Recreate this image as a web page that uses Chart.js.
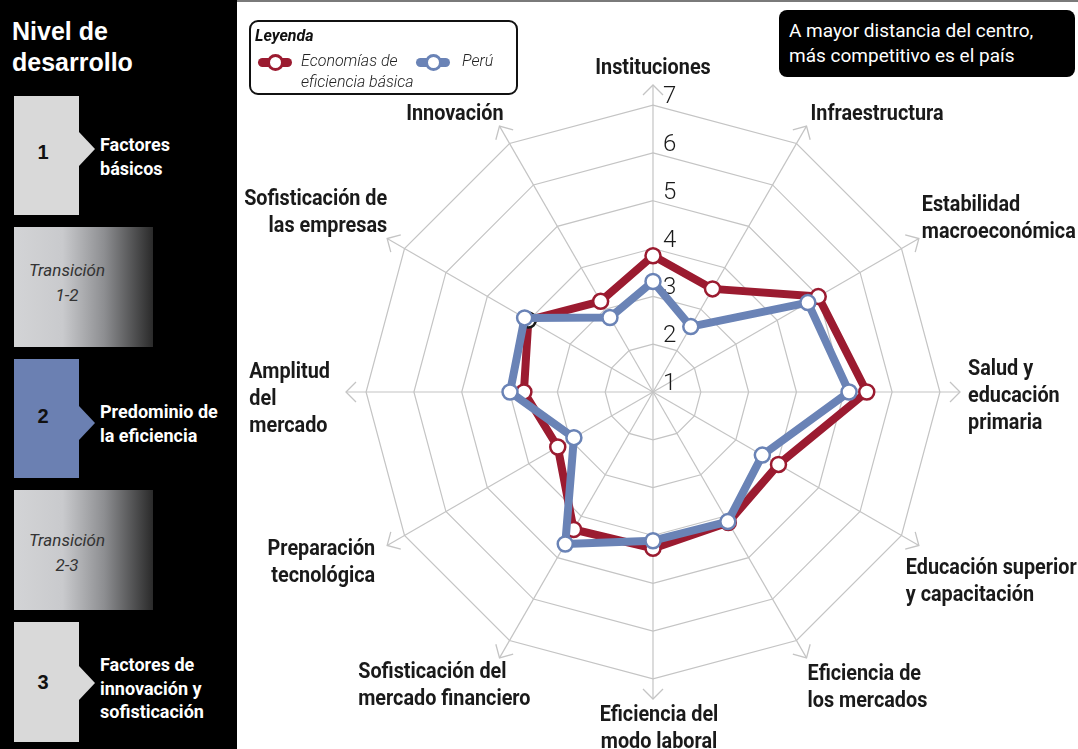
<!DOCTYPE html>
<html lang="es">
<head>
<meta charset="utf-8">
<title>Índice de competitividad - Perú</title>
<script src="https://cdn.jsdelivr.net/npm/chart.js@4.4.0/dist/chart.umd.min.js"></script>
<style>
  body { margin: 0; width: 1078px; height: 749px; overflow: hidden; background: #fff; position: relative; font-family: Roboto, "Liberation Sans", sans-serif; }
  #grafico { position: absolute; left: 0; top: 0; }
  .borde-sup { position: absolute; left: 237px; top: 0; width: 841px; height: 2px; background: #7a7a7a; }
  .panel { position: absolute; left: 0; top: 0; width: 237px; height: 749px; background: #000; }
  .titulo { position: absolute; left: 12px; top: 16px; color: #fff; font: bold 25px/31px "Liberation Sans", Arial, sans-serif; }
  .caja { position: absolute; left: 14px; width: 65px; background: #d9d9d9; }
  .caja.azul { background: #6b80b2; }
  .num { position: absolute; left: 14px; width: 58px; text-align: center; font: bold 20px/24px "Liberation Sans", Arial, sans-serif; color: #111; }
  .punta { position: absolute; left: 79px; width: 0; height: 0; border-left: 16px solid #d9d9d9; border-top: 17px solid transparent; border-bottom: 17px solid transparent; }
  .punta.azul { border-left-color: #6b80b2; }
  .etapa { position: absolute; left: 100px; color: #fff; font: bold 18px/23.5px Roboto, sans-serif; }
  .transicion { position: absolute; left: 14px; width: 139px; height: 120px;
    background: linear-gradient(to right, #d3d4d6 0%, #c9cacd 35%, #8d8e91 65%, #2a2a2a 100%); }
  .trans-txt { position: absolute; left: 14px; width: 106px; text-align: center; color: #333; font: italic 17px/25px Roboto, sans-serif; }
  .leyenda { position: absolute; left: 249px; top: 20px; width: 265px; height: 71px; border: 2px solid #111; border-radius: 9px; background: #fff; }
  .ley-tit { position: absolute; left: 255px; top: 26px; font: italic bold 16px/20px Roboto, sans-serif; color: #111; }
  .ley-txt { position: absolute; top: 50px; font: italic 300 16px/21px Roboto, sans-serif; color: #222; }
  .barra { position: absolute; top: 58px; width: 34px; height: 9px; border-radius: 5px; }
  .circulo { position: absolute; top: 54px; width: 17px; height: 17px; box-sizing: border-box; border: 3px solid; border-radius: 50%; background: #fff; }
  .nota { position: absolute; left: 779px; top: 10px; width: 286px; height: 67px; padding-left: 10px; background: #000; border-radius: 8px; color: #fff; font: 19px/25px Roboto, sans-serif; }
  .nota div { padding-top: 8px; }
</style>
</head>
<body>
<canvas id="grafico" width="1078" height="749"></canvas>
<div class="borde-sup"></div>

<div class="panel"></div>
<div class="titulo">Nivel de<br>desarrollo</div>

<div class="caja" style="top:96px;height:119px"></div>
<div class="punta" style="top:132px"></div>
<div class="num" style="top:140px">1</div>
<div class="etapa" style="top:133px">Factores<br>básicos</div>

<div class="transicion" style="top:227px"></div>
<div class="trans-txt" style="top:258px">Transición<br>1-2</div>

<div class="caja azul" style="top:359px;height:119px"></div>
<div class="punta azul" style="top:406px"></div>
<div class="num" style="top:404px">2</div>
<div class="etapa" style="top:400px">Predominio de<br>la eficiencia</div>

<div class="transicion" style="top:490px"></div>
<div class="trans-txt" style="top:528px">Transición<br>2-3</div>

<div class="caja" style="top:622px;height:120px"></div>
<div class="punta" style="top:666px"></div>
<div class="num" style="top:670px">3</div>
<div class="etapa" style="top:653px">Factores de<br>innovación y<br>sofisticación</div>

<div class="leyenda"></div>
<div class="ley-tit">Leyenda</div>
<div class="barra" style="left:258px;background:#9b1b30"></div>
<div class="circulo" style="left:267px;border-color:#9b1b30"></div>
<div class="ley-txt" style="left:301px">Economías de<br>eficiencia básica</div>
<div class="barra" style="left:416px;background:#6a83b6"></div>
<div class="circulo" style="left:425px;border-color:#6a83b6"></div>
<div class="ley-txt" style="left:462px">Perú</div>

<div class="nota"><div>A mayor distancia del centro,<br>más competitivo es el país</div></div>

<script>
const lienzo = document.getElementById('grafico');
const ctx = lienzo.getContext('2d');

// --- Datos ---
const categorias = [
    ['Instituciones'],
    ['Infraestructura'],
    ['Estabilidad', 'macroeconómica'],
    ['Salud y', 'educación', 'primaria'],
    ['Educación superior', 'y capacitación'],
    ['Eficiencia de', 'los mercados'],
    ['Eficiencia del', 'modo laboral'],
    ['Sofisticación del', 'mercado financiero'],
    ['Preparación', 'tecnológica'],
    ['Amplitud', 'del', 'mercado'],
    ['Sofisticación de', 'las empresas'],
    ['Innovación']
];
const valoresEficiencia = [3.85, 3.49, 4.99, 5.47, 4.03, 4.15, 4.27, 4.32, 3.30, 3.70, 4.01, 3.19];
const valoresPeru = [3.31, 2.58, 4.74, 5.10, 3.64, 4.13, 4.11, 4.67, 2.91, 3.99, 4.10, 2.80];
const marcasEscala = [1, 2, 3, 4, 5, 6, 7];

const rojo = '#9b1b30';
const azul = '#6a83b6';
const gris = '#c4c4c4';

// alineación de cada renglón dentro de su etiqueta, y pequeños ajustes de posición
const alineaciones = ['center', 'left', 'left', 'left', 'left', 'left', 'center', 'left', 'right', 'left', 'right', 'right'];
const ajustes = {
    0: [0, 5], 1: [0, 9], 2: [-4, 11], 3: [0, 4], 4: [-20, 5], 5: [-3, -4],
    6: [6, -5], 7: [35, -6], 8: [-5, -14], 9: [-8, 7], 10: [7, 5], 11: [8, 9]
};

// --- Decoración: flechas, números de la escala y nombres de los pilares ---
const decoracion = {
    id: 'decoracion',
    beforeDatasetsDraw(chart) {
        const s = chart.scales.r;
        const c = chart.ctx;
        c.save();

        // puntas de flecha al final de cada eje
        c.strokeStyle = gris;
        c.lineWidth = 1.3;
        for (let i = 0; i < categorias.length; i++) {
            const tip = s.getPointPosition(i, s.drawingArea);
            const a = s.getIndexAngle(i) - Math.PI / 2;
            const dx = Math.cos(a), dy = Math.sin(a);
            c.beginPath();
            c.moveTo(tip.x - 10 * dx - 10 * dy, tip.y - 10 * dy + 10 * dx);
            c.lineTo(tip.x, tip.y);
            c.lineTo(tip.x - 10 * dx + 10 * dy, tip.y - 10 * dy - 10 * dx);
            c.stroke();
        }

        // números de la escala
        c.fillStyle = '#1a1a1a';
        c.font = '300 24px Roboto';
        c.textAlign = 'left';
        c.textBaseline = 'middle';
        marcasEscala.forEach(v => {
            const r = s.getDistanceFromCenterForValue(v);
            c.fillText(String(v), s.xCenter + 10, s.yCenter - r - 8);
        });
        c.restore();
    },
    afterDraw(chart) {
        const s = chart.scales.r;
        const c = chart.ctx;
        const condensa = 0.9;
        const lh = 27;
        c.save();
        c.fillStyle = '#1a1a1a';
        c.font = 'bold 22px Roboto';
        c.textAlign = 'left';
        c.textBaseline = 'middle';
        categorias.forEach((lineas, i) => {
            const p = s.getPointPosition(i, s.drawingArea + 8);
            const ang = Math.round(s.getIndexAngle(i) * 180 / Math.PI);
            const anchos = lineas.map(t => c.measureText(t).width * condensa);
            const w = Math.max(...anchos);
            const h = lineas.length * lh;
            let left = (ang === 0 || ang === 180) ? p.x - w / 2 : (ang < 180 ? p.x : p.x - w);
            let top = (ang === 90 || ang === 270) ? p.y - h / 2 : ((ang < 90 || ang > 270) ? p.y - h : p.y);
            if (ajustes[i]) {
                left += ajustes[i][0];
                top += ajustes[i][1];
            }
            lineas.forEach((t, k) => {
                const al = alineaciones[i];
                const x = al === 'left' ? left : (al === 'right' ? left + w - anchos[k] : left + (w - anchos[k]) / 2);
                const y = top + lh * k + lh / 2;
                c.save();
                c.translate(x, y);
                c.scale(condensa, 1);
                c.fillText(t, 0, 0);
                c.restore();
            });
        });
        c.restore();
    }
};

new Chart(ctx, {
    type: 'radar',
    data: {
        labels: categorias,
        datasets: [
            {
                label: 'Economías de eficiencia básica',
                data: valoresEficiencia,
                borderColor: rojo,
                borderWidth: 8,
                pointRadius: 7.5,
                pointBorderWidth: 2.5,
                pointBackgroundColor: '#fff',
                pointBorderColor: valoresEficiencia.map((v, i) => i === 10 ? '#1a1a1a' : rojo),
                fill: false,
                order: 2
            },
            {
                label: 'Perú',
                data: valoresPeru,
                borderColor: azul,
                borderWidth: 8,
                pointRadius: 7.5,
                pointBorderWidth: 2.5,
                pointBackgroundColor: '#fff',
                pointBorderColor: azul,
                fill: false,
                order: 1
            }
        ]
    },
    options: {
        responsive: false,
        animation: false,
        layout: { padding: { left: 346, right: 118, top: 85, bottom: 50 } },
        plugins: { legend: { display: false }, tooltip: { enabled: false } },
        elements: { line: { tension: 0, borderJoinStyle: 'round' } },
        scales: {
            r: {
                min: 1,
                max: 7.42,
                afterBuildTicks: (scale) => { scale.ticks = marcasEscala.map(v => ({ value: v })); },
                ticks: { display: false, stepSize: 1 },
                grid: { color: gris, lineWidth: 1.2 },
                angleLines: { color: gris, lineWidth: 1.2 },
                pointLabels: { display: false }
            }
        }
    },
    plugins: [decoracion]
});
</script>
</body>
</html>
